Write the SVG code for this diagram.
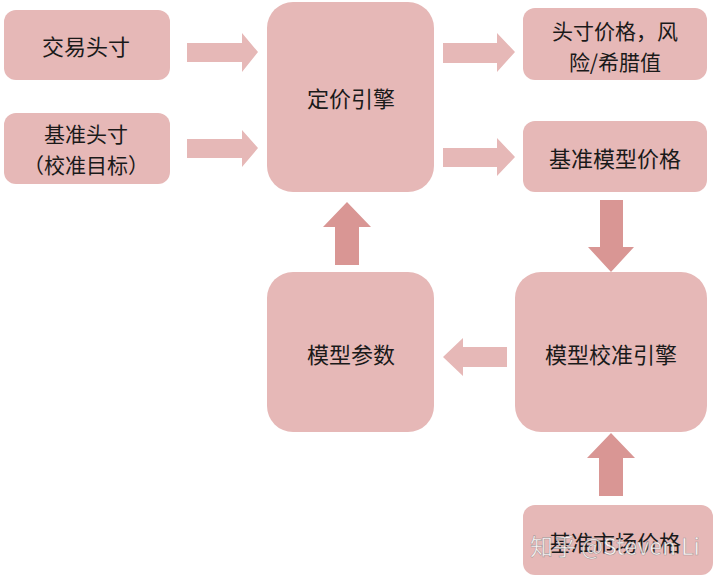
<svg xmlns="http://www.w3.org/2000/svg" width="716" height="578" viewBox="0 0 716 578">
<style>
.box{fill:#e6b8b7}
.arr{fill:#e6b8b7}
.arrd{fill:#d99694}
.t{font-family:"Noto Sans CJK SC","Noto Sans",sans-serif;font-size:22px;fill:#1a1a1a;text-anchor:middle;dominant-baseline:central}
.s{font-size:21px}
.wm{font-family:"Noto Sans CJK SC","Liberation Sans",sans-serif;font-size:23px;fill:#ffffff;fill-opacity:0.85;stroke:#777;stroke-width:0.6;stroke-opacity:0.6;text-anchor:middle;dominant-baseline:central}
</style>
<rect width="716" height="578" fill="#ffffff"/>
<g id="connectors">
<polygon class="arr" points="187,43 242,43 242,33 258,52 242,72 242,62 187,62"/>
<polygon class="arr" points="187,139 242,139 242,130 258,148 242,167 242,158 187,158"/>
<polygon class="arr" points="443,43 497,43 497,33 515,52 497,72 497,63 443,63"/>
<polygon class="arr" points="443,148 497,148 497,138 515,157 497,176 497,167 443,167"/>
<polygon class="arrd" points="600,200 623,200 623,247 634,247 611,272 588,247 600,247"/>
<polygon class="arrd" points="335,265 359,265 359,227 371,227 347,202 323,227 335,227"/>
<polygon class="arr" points="507,347 463,347 463,338 443,357 463,376 463,367 507,367"/>
<polygon class="arrd" points="599,496 623,496 623,458 635,458 611,433 587,458 599,458"/>
</g>
<g id="n1"><rect class="box" x="4" y="10" width="166" height="70" rx="12"/><text class="t" x="86" y="45">交易头寸</text></g>
<g id="n2"><rect class="box" x="4" y="113" width="166" height="71" rx="12"/><text class="t s" x="86" y="133">基准头寸</text><text class="t s" x="86" y="164">（校准目标）</text></g>
<g id="n3"><rect class="box" x="267" y="2" width="167" height="190" rx="26"/><text class="t" x="351" y="97">定价引擎</text></g>
<g id="n4"><rect class="box" x="523" y="8" width="184" height="72" rx="12"/><text class="t s" x="615" y="30">头寸价格，风</text><text class="t s" x="615" y="61">险/希腊值</text></g>
<g id="n5"><rect class="box" x="523" y="121" width="184" height="71" rx="12"/><text class="t" x="615" y="157">基准模型价格</text></g>
<g id="n6"><rect class="box" x="267" y="272" width="167" height="160" rx="26"/><text class="t" x="351" y="353">模型参数</text></g>
<g id="n7"><rect class="box" x="515" y="272" width="192" height="160" rx="26"/><text class="t" x="611" y="353">模型校准引擎</text></g>
<g id="n8"><rect class="box" x="523" y="505" width="190" height="70" rx="12"/><text class="t" x="615" y="541">基准市场价格</text></g>
<text class="wm" x="615" y="545">知乎 @Steven Li</text>
</svg>
